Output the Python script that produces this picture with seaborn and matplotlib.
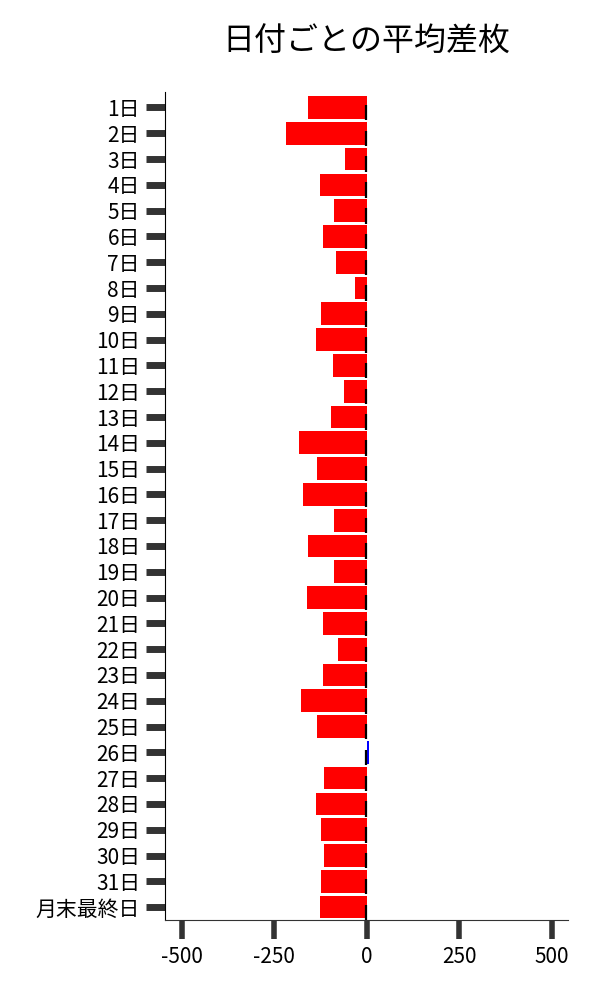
import numpy as np
import pandas as pd
import matplotlib
matplotlib.use("Agg")
import matplotlib.pyplot as plt
import seaborn as sns

# 日付ラベルと平均差枚
days = [f"{i}日" for i in range(1, 32)] + ["月末最終日"]
avg_diff = [-159, -219, -59, -127, -89, -119, -84, -32,
            -122, -138, -92, -62, -95, -184, -135, -173,
            -89, -159, -89, -162, -119, -78, -119, -178,
            -135, 7, -116, -138, -124, -116, -122, -127]
x_ticks = [-500, -250, 0, 250, 500]

df = pd.DataFrame({"day": days, "diff": avg_diff})
df["sign"] = np.where(df["diff"] >= 0, "plus", "minus")

sns.set_style("white")
plt.rcParams['font.family'] = ['Noto Sans CJK JP', 'DejaVu Sans']
plt.rcParams['text.color'] = 'black'

fig, ax = plt.subplots(figsize=(6, 10), dpi=100)
fig.subplots_adjust(left=0.275, right=0.947, top=0.908, bottom=0.08)

sns.barplot(data=df, x="diff", y="day", hue="sign", order=days,
            palette={"minus": "#ff0000", "plus": "#0000ff"}, saturation=1,
            dodge=False, width=0.88, linewidth=0, legend=False, ax=ax)

# 0の位置の黒い目印
pos = np.arange(len(days))
ax.vlines(np.full(len(days), -1.5), pos - 0.1, pos + 0.5, color="black",
          linewidth=1.6, zorder=5)

ax.set_xlim(-545, 545)
ax.set_ylim(len(days) - 0.5, -0.6)
ax.set_xticks(x_ticks)
ax.set_xticklabels([str(t) for t in x_ticks])
ax.set_xlabel("")
ax.set_ylabel("")

ax.tick_params(axis="y", length=14, width=5, color="#333333", labelcolor="black",
               labelsize=15, pad=4)
ax.tick_params(axis="x", length=14, width=4, color="#333333", labelcolor="black",
               labelsize=15, pad=5)
ax.tick_params(left=True, bottom=True)

sns.despine(ax=ax)
ax.spines["left"].set_color("black")
ax.spines["bottom"].set_color("#333333")

ax.set_title("日付ごとの平均差枚", fontsize=23, pad=30, color="black")

plt.savefig("out.png", dpi=100)
